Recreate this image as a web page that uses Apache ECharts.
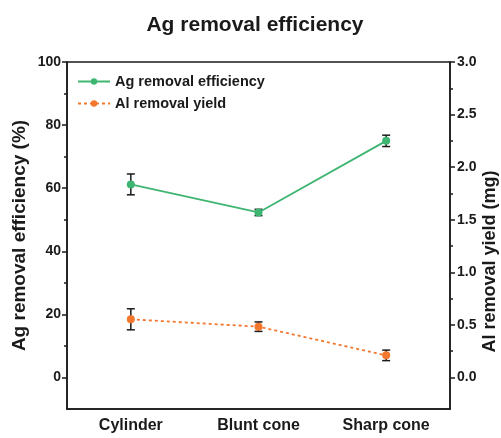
<!DOCTYPE html>
<html>
<head>
<meta charset="utf-8">
<script src="https://cdn.jsdelivr.net/npm/echarts@6/dist/echarts.min.js"></script>
<style>
  html, body { margin: 0; padding: 0; background: #fff; }
  #main { width: 501px; height: 438px; }
</style>
</head>
<body>
<div id="main"></div>
<script>
// 数据
const categories = ['Cylinder', 'Blunt cone', 'Sharp cone']
const agEff = [61.2, 52.3, 75.0]
const agErr = [3.3, 1.0, 1.8]
const alYield = [0.553, 0.483, 0.21]
const alErr = [0.10, 0.045, 0.05]
const leftLabels = [0, 20, 40, 60, 80, 100]
const leftMinor = [10, 30, 50, 70, 90]
const rightLabels = [0, 0.5, 1.0, 1.5, 2.0, 2.5, 3.0]
const rightMinor = [0.25, 0.75, 1.25, 1.75, 2.25, 2.75]

const font = 'Liberation Sans, Arial, sans-serif'
const ink = '#1a1a1a'
const green = '#3fb572'
const orange = '#f4772e'

// 误差棒
function errorBar(values, errs) {
  return values.map((v, i) => [i, v - errs[i], v + errs[i]])
}
function renderBar(params, api) {
  const x = api.value(0)
  const lo = api.coord([x, api.value(1)])
  const hi = api.coord([x, api.value(2)])
  const w = 4
  const style = { stroke: ink, lineWidth: 1.5 }
  return {
    type: 'group',
    children: [
      { type: 'line', shape: { x1: lo[0], y1: lo[1], x2: hi[0], y2: hi[1] }, style },
      { type: 'line', shape: { x1: lo[0] - w, y1: lo[1], x2: lo[0] + w, y2: lo[1] }, style },
      { type: 'line', shape: { x1: hi[0] - w, y1: hi[1], x2: hi[0] + w, y2: hi[1] }, style }
    ]
  }
}

const axisLine = { show: true, onZero: false, lineStyle: { color: ink, width: 1.5 } }
const tickLabel = { color: ink, fontSize: 14, fontWeight: 'bold', fontFamily: font }

const option = {
  animation: false,
  title: {
    text: 'Ag removal efficiency',
    left: 250,
    textAlign: 'center',
    top: 10,
    textStyle: { fontSize: 21, fontWeight: 'bold', fontFamily: font, color: ink }
  },
  legend: {
    orient: 'vertical',
    left: 72,
    top: 69,
    itemWidth: 32,
    itemHeight: 8,
    itemGap: 7,
    textStyle: { fontSize: 14.5, fontWeight: 'bold', fontFamily: font, color: ink },
    data: ['Ag removal efficiency', 'Al removal yield']
  },
  grid: {
    left: 67,
    right: 51,
    top: 62,
    bottom: 29,
    outerBoundsMode: 'none',
    show: true,
    borderColor: ink,
    borderWidth: 1.5
  },
  xAxis: [
    {
      type: 'category',
      data: categories,
      boundaryGap: true,
      axisLine,
      axisTick: { alignWithLabel: true, length: 5, lineStyle: { color: ink, width: 1.5 } },
      axisLabel: { color: ink, fontSize: 16, fontWeight: 'bold', fontFamily: font, margin: 9 }
    },
    {
      type: 'category',
      data: categories,
      position: 'bottom',
      boundaryGap: true,
      axisLine: { show: false, onZero: false },
      axisTick: { length: 3, lineStyle: { color: ink, width: 1.5 } },
      axisLabel: { show: false }
    }
  ],
  yAxis: [
    {
      type: 'value',
      min: -10,
      max: 100,
      position: 'left',
      name: 'Ag removal efficiency (%)',
      nameLocation: 'middle',
      nameRotate: 90,
      nameGap: 38,
      nameMoveOverlap: false,
      nameTextStyle: { fontSize: 19, fontWeight: 'bold', fontFamily: font, color: ink },
      axisLine,
      splitLine: { show: false },
      axisTick: { show: true, length: 5, customValues: leftLabels, lineStyle: { color: ink, width: 1.5 } },
      axisLabel: Object.assign({ customValues: leftLabels, margin: 6 }, tickLabel)
    },
    {
      type: 'value',
      min: -0.3,
      max: 3.0,
      position: 'right',
      name: 'Al removal yield (mg)',
      nameLocation: 'middle',
      nameRotate: 90,
      nameGap: 31,
      nameMoveOverlap: false,
      nameTextStyle: { fontSize: 18, fontWeight: 'bold', fontFamily: font, color: ink, padding: [0, 52, 0, 0] },
      axisLine,
      splitLine: { show: false },
      axisTick: { show: true, length: 5, customValues: rightLabels, lineStyle: { color: ink, width: 1.5 } },
      axisLabel: Object.assign({
        customValues: rightLabels,
        margin: 7,
        formatter: v => v.toFixed(1)
      }, tickLabel)
    },
    {
      type: 'value',
      min: -10,
      max: 100,
      position: 'left',
      axisLine: { show: false },
      splitLine: { show: false },
      axisTick: { show: true, length: 3, customValues: leftMinor, lineStyle: { color: ink, width: 1.5 } },
      axisLabel: { show: false }
    },
    {
      type: 'value',
      min: -0.3,
      max: 3.0,
      position: 'right',
      axisLine: { show: false },
      splitLine: { show: false },
      axisTick: { show: true, length: 3, customValues: rightMinor, lineStyle: { color: ink, width: 1.5 } },
      axisLabel: { show: false }
    }
  ],
  series: [
    {
      name: 'Ag removal efficiency',
      type: 'line',
      yAxisIndex: 0,
      data: agEff,
      symbol: 'circle',
      symbolSize: 8,
      z: 3,
      itemStyle: { color: green },
      lineStyle: { color: green, width: 1.8 }
    },
    {
      name: 'Al removal yield',
      type: 'line',
      yAxisIndex: 1,
      data: alYield,
      symbol: 'circle',
      symbolSize: 8,
      z: 3,
      itemStyle: { color: orange },
      lineStyle: { color: orange, width: 1.8, type: [3, 3] }
    },
    {
      type: 'custom',
      yAxisIndex: 0,
      z: 2,
      renderItem: renderBar,
      data: errorBar(agEff, agErr)
    },
    {
      type: 'custom',
      yAxisIndex: 1,
      z: 2,
      renderItem: renderBar,
      data: errorBar(alYield, alErr)
    }
  ]
}

const myChart = echarts.init(document.getElementById('main'))
myChart.setOption(option)
</script>
</body>
</html>
